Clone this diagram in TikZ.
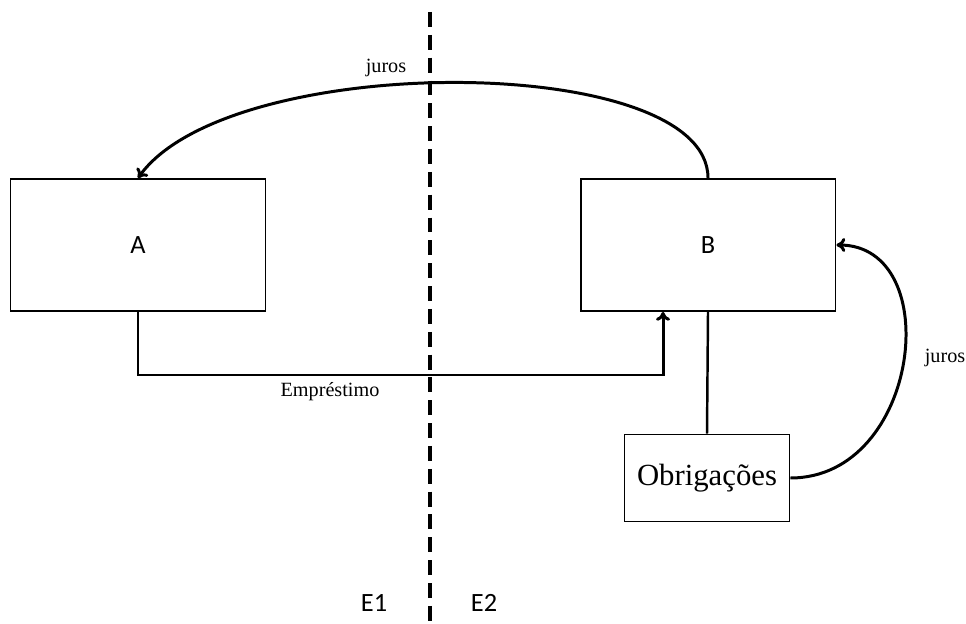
\documentclass[tikz,border=0pt]{standalone}
\usepackage{fontspec}
\setmainfont{Liberation Serif}
\newfontfamily\caixafont{Carlito}
\usepackage{tikz}
\usetikzlibrary{arrows.meta}

\tikzset{
	caixa/.style={draw, line width=1.1pt, minimum width=5.1cm, minimum height=2.64cm, font=\caixafont\fontsize{15}{18}\selectfont},
	seta/.style={line width=1.7pt, -{To[length=5pt,width=8pt]}},
	rotulo/.style={font=\fontsize{11.5}{13}\selectfont, inner sep=1pt}
}

\begin{document}
\begin{tikzpicture}[x=0.02cm, y=-0.02cm]
	
	\useasboundingbox (0,0) rectangle (966,624);
	
	\node[caixa] (A) at (138,245) {A};
	\node[caixa] (B) at (708,245) {B};
	\node[draw, line width=1.1pt, minimum width=3.3cm, minimum height=1.74cm, font=\fontsize{17.5}{20}\selectfont] (obr) at (707,478) {Obrigações};
	
	% fronteira
	\coordinate (topo) at (430,12);
	\coordinate (base) at (430,624);
	\draw[line width=1.9pt, dash pattern=on 8.5pt off 4.5pt] (topo) -- (base);
	
	\node[font=\caixafont\fontsize{15}{18}\selectfont] (E1) at (374,603) {E1};
	\node[font=\caixafont\fontsize{15}{18}\selectfont] (E2) at (484,603) {E2};
	
	% juros de B para A
	\draw[seta] (B.north) .. controls (708,52) and (230,50) .. (A.north);
	\node[rotulo] (jurosA) at (386,68) {juros};
	
	% emprestimo
	\coordinate (canto) at (663,375);
	\draw[seta] (A.south) |- (canto) -- (canto |- B.south);
	\node[rotulo] (empr) at (330,392) {Empréstimo};
	
	\draw[line width=1.4pt] (B.south) -- (obr.north);
	
	% juros das obrigacoes
	\draw[seta] (obr.east) .. controls +(130,0) and +(110,0) .. (B.east);
	\node[rotulo] (jurosB) at (945,358) {juros};
	
\end{tikzpicture}
\end{document}
